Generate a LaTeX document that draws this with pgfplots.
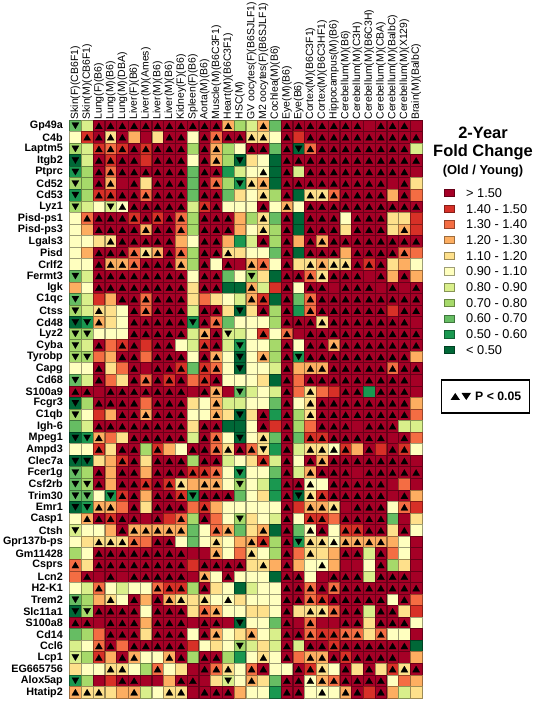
\documentclass[border=0pt]{standalone}
\usepackage{pgfplots}
\usepackage{pgfplotstable}
\usepackage{fontspec}
\setmainfont{Liberation Sans}
\pgfplotsset{compat=1.18}
% colour level of each cell: 0 = >1.50 ... 5 = 0.90-1.10 ... 10 = <0.50
\pgfplotstableread[header=false]{
8 6 0 0 0 0 0 0 0 0 0 0 0 3 7 6 3 8 0 0 0 0 0 0 0 0 0 0 0 0
5 1 0 4 0 3 0 4 0 0 5 0 2 0 0 4 4 5 0 1 0 0 0 0 0 0 0 0 0 0
7 6 1 2 1 0 1 0 0 0 7 0 3 7 5 0 0 8 0 10 2 0 0 0 0 0 0 0 0 6
10 6 0 1 0 0 1 0 0 0 5 0 3 7 10 4 5 10 0 0 0 0 0 0 0 0 0 0 0 0
9 7 0 2 0 0 0 0 0 0 8 0 0 9 6 5 5 10 0 6 0 0 0 0 0 0 0 0 0 0
7 7 0 3 0 0 4 0 0 0 8 0 2 7 9 4 3 10 0 0 0 0 0 0 0 0 0 0 0 4
9 7 1 1 0 0 2 0 0 0 8 0 0 8 4 5 4 7 0 10 4 4 2 0 0 0 0 3 0 2
7 6 5 6 5 0 0 0 0 0 6 1 0 5 5 5 0 5 3 5 0 0 0 0 0 0 0 0 0 0
5 2 0 0 0 1 0 1 0 2 7 0 0 0 3 7 4 8 0 10 0 0 0 5 0 0 0 4 4 1
5 3 0 0 0 0 3 0 0 2 7 0 0 0 3 5 4 7 0 10 0 0 0 4 0 0 0 4 3 1
5 5 4 4 0 0 0 0 0 3 5 0 0 3 9 6 0 7 0 3 0 3 0 0 0 0 0 0 0 0
5 3 0 0 0 2 4 3 0 2 7 0 0 4 4 5 5 8 0 10 0 0 0 3 0 0 0 0 2 2
5 5 0 3 3 2 0 0 0 3 7 0 5 0 0 3 2 5 0 4 4 3 4 4 0 1 0 4 3 5
8 6 0 0 0 0 0 0 0 0 5 0 0 8 5 7 4 10 0 0 2 4 0 0 0 0 0 3 0 3
3 5 0 0 0 0 0 0 0 0 4 0 0 10 10 3 6 1 0 5 0 0 0 0 0 0 0 0 0 0
8 6 1 3 0 0 2 0 0 0 4 2 4 5 6 3 1 10 0 8 2 0 0 0 0 0 0 0 0 0
7 6 4 4 5 0 2 0 0 0 6 0 0 4 10 4 0 7 0 9 2 0 0 0 0 0 0 1 0 0
10 9 3 4 5 0 0 0 0 0 9 0 2 8 5 5 5 7 0 0 0 4 0 0 0 0 0 0 0 0
7 7 5 5 5 0 0 0 0 0 6 3 0 6 6 5 1 5 2 0 0 0 0 0 0 0 0 0 0 0
7 6 0 2 1 0 1 0 0 5 6 1 0 6 9 5 5 7 0 5 0 0 3 0 0 0 0 0 0 0
7 7 2 3 0 0 2 0 0 0 5 0 3 5 10 5 3 7 0 9 0 0 0 0 0 0 0 0 0 3
5 5 0 4 2 0 0 0 0 1 8 1 2 5 10 5 5 6 0 3 3 3 0 0 0 0 0 2 0 0
8 6 0 2 4 0 2 0 1 0 2 1 0 5 5 5 4 10 0 2 0 0 0 0 0 0 0 0 0 0
0 0 0 0 0 0 0 0 0 0 0 0 3 0 8 6 5 6 0 2 4 2 1 0 0 9 0 0 0 0
10 7 0 0 0 0 2 0 0 0 4 5 3 6 6 5 5 8 0 5 4 0 0 0 0 0 0 0 0 3
7 5 1 3 0 0 3 0 0 0 5 5 3 4 10 4 0 9 0 7 4 0 0 0 0 0 0 0 0 2
8 6 0 0 0 0 0 0 0 0 4 0 0 10 10 5 0 1 0 7 2 0 0 0 0 0 0 0 6 6
10 9 3 2 4 0 0 0 0 0 6 0 2 5 10 5 4 8 0 8 1 1 0 0 0 0 0 0 0 2
5 5 1 4 0 0 7 1 3 5 0 0 2 4 0 2 4 9 0 6 4 4 5 1 3 0 1 0 1 5
10 10 4 3 1 0 4 0 0 0 7 0 0 6 5 4 1 6 0 5 0 3 0 0 0 0 0 0 0 0
8 7 0 3 0 0 3 0 0 0 1 1 2 5 9 5 5 8 0 6 3 0 0 0 0 0 0 0 0 0
8 7 0 3 0 0 1 0 1 4 3 3 3 5 7 5 6 9 0 0 5 5 0 0 0 0 0 0 2 0
8 8 5 9 1 0 3 0 0 1 9 0 0 0 8 5 4 9 0 10 4 1 0 0 0 0 0 0 0 3
10 9 3 3 2 0 4 0 0 0 2 1 3 5 5 5 5 5 0 1 3 3 4 0 0 0 0 5 2 1
5 3 0 1 0 0 0 0 1 2 7 0 2 5 7 4 5 6 0 5 1 1 2 0 0 0 0 8 0 4
6 5 5 3 0 3 3 3 3 3 8 5 2 3 8 4 3 10 0 8 5 0 5 1 1 0 0 4 0 5
5 4 4 4 4 2 2 0 0 5 8 5 4 5 3 3 1 7 0 9 4 4 5 3 3 3 3 3 5 0
7 5 0 0 0 0 0 0 0 0 0 0 3 5 2 4 5 7 0 2 4 4 3 0 0 6 0 2 5 0
2 4 0 0 0 0 0 0 0 0 1 0 0 0 0 4 4 3 0 3 5 5 3 0 0 5 0 7 4 0
2 0 0 0 0 0 0 0 0 0 0 3 5 0 5 5 5 10 0 0 5 0 0 0 0 6 0 0 0 0
5 6 2 5 6 5 5 2 1 1 7 0 4 5 10 6 5 5 0 0 2 0 2 0 0 0 0 0 0 0
8 7 3 4 5 0 3 0 3 4 4 4 5 5 4 5 5 5 0 0 2 1 0 0 0 0 0 5 0 2
10 7 0 0 0 0 5 0 0 0 4 2 3 5 5 4 4 5 0 4 4 4 2 0 0 6 0 0 4 1
0 0 0 0 0 0 3 0 0 0 0 0 0 0 10 5 5 8 0 0 2 0 0 0 0 4 0 0 0 5
8 7 2 0 0 0 4 0 0 0 5 0 3 5 4 3 5 6 0 0 2 1 1 2 2 4 2 5 5 0
6 5 2 0 2 0 0 0 0 0 1 5 4 5 7 6 4 6 0 6 0 0 1 0 0 0 0 0 0 10
6 7 1 3 0 3 5 5 3 0 7 0 0 7 9 5 4 5 0 2 3 3 0 1 0 0 0 0 0 3
4 5 5 4 4 5 7 2 5 4 0 0 2 4 5 2 0 5 5 0 1 4 5 0 4 0 4 1 4 0
9 7 0 1 0 0 0 0 3 0 0 0 4 6 5 3 4 8 0 0 5 3 2 0 0 0 0 5 2 3
3 4 4 4 3 3 6 5 4 4 0 0 0 0 3 5 5 9 0 0 5 5 5 3 0 1 0 3 6 4
}\cells
% significance of each cell: 0 = none, 1 = up, 2 = down
\pgfplotstableread[header=false]{
2 0 1 1 1 1 1 1 1 1 1 1 1 1 0 0 1 0 1 1 1 1 1 1 1 0 1 1 1 0
0 1 1 1 1 0 0 0 1 1 0 1 1 1 1 1 1 0 1 0 1 1 1 1 1 1 1 1 1 1
2 0 1 1 1 1 1 1 1 1 0 1 1 0 0 1 1 0 1 2 1 1 1 1 1 1 1 1 1 0
2 0 1 1 1 1 0 1 1 1 0 1 1 0 2 0 0 0 1 1 1 1 1 1 1 1 1 1 1 1
2 0 1 1 1 1 1 1 1 1 0 1 1 0 0 0 1 0 1 0 1 1 1 1 1 1 1 1 1 0
2 0 1 1 0 1 0 1 1 1 0 1 1 0 2 1 1 0 1 1 1 1 1 1 1 1 1 0 1 0
2 0 1 1 1 1 1 1 1 1 0 1 1 0 0 0 1 0 1 0 1 1 1 1 1 1 1 0 1 0
2 0 0 2 1 1 1 1 1 1 0 1 1 0 0 0 1 0 1 0 1 1 1 1 1 1 1 1 1 1
0 1 1 1 1 1 1 1 1 1 0 1 1 1 0 0 1 0 1 0 1 1 1 0 1 1 1 0 0 0
0 0 1 1 1 1 1 1 1 1 0 1 1 1 0 0 1 0 1 0 1 1 1 0 1 1 1 0 1 0
0 0 0 1 1 1 1 1 1 0 0 1 1 0 0 0 1 0 1 0 1 1 1 1 1 1 1 1 1 1
0 0 1 1 1 1 1 1 1 1 0 1 1 1 0 0 0 0 1 0 1 1 1 0 1 1 1 1 1 0
0 0 1 1 1 1 1 1 1 1 0 1 0 1 0 1 1 0 1 0 1 1 1 1 1 1 1 0 0 0
2 0 1 1 1 1 1 1 1 1 0 1 1 0 0 2 0 0 1 1 1 1 1 1 1 0 1 0 1 0
0 0 1 1 1 1 1 1 1 1 0 1 1 0 0 1 0 0 1 0 1 1 0 1 1 1 0 1 0 1
2 0 0 0 1 1 1 1 1 1 0 0 0 0 0 1 1 0 1 0 1 1 1 1 1 1 1 1 1 1
2 0 1 0 0 1 1 1 1 1 0 1 1 0 2 0 1 0 1 0 1 1 1 1 1 1 1 0 1 1
2 2 1 0 0 1 1 1 1 1 2 1 1 0 0 0 0 0 1 1 1 1 1 1 1 1 1 1 1 0
2 2 0 0 0 1 1 1 1 1 0 1 1 2 0 0 1 0 1 0 1 1 1 1 1 1 1 1 1 1
2 0 1 0 1 1 0 1 1 0 0 1 1 0 2 0 0 0 1 0 1 1 1 1 1 1 1 1 1 1
2 2 0 0 1 1 0 1 1 1 0 1 1 0 2 0 1 0 1 2 1 1 1 1 1 1 1 1 1 0
0 0 1 0 0 1 0 1 1 1 0 1 1 0 2 0 0 0 1 0 1 1 1 1 1 1 1 1 1 1
2 0 1 0 0 1 1 1 1 1 0 1 1 0 0 0 0 0 1 0 1 1 1 1 1 1 1 1 1 0
1 1 0 1 1 1 1 1 1 1 0 1 1 0 2 0 0 0 1 0 1 0 0 1 1 0 1 1 1 0
2 0 1 1 1 1 0 1 1 1 0 0 1 0 0 0 0 0 1 0 1 1 1 1 1 1 1 1 1 0
2 0 0 0 1 1 1 1 1 1 0 0 1 0 2 0 1 0 1 0 1 1 1 1 1 1 1 1 1 0
0 0 1 1 1 1 1 1 1 1 0 1 1 0 0 0 1 0 1 0 0 1 1 1 0 1 1 1 0 0
2 2 1 0 0 1 1 1 1 1 0 1 1 0 2 0 1 0 1 0 1 1 1 1 1 1 1 0 1 0
0 0 1 0 1 1 0 1 0 0 1 1 1 1 1 1 2 0 1 0 1 1 1 1 0 1 0 1 1 0
2 2 0 0 1 1 0 1 1 1 0 1 1 0 0 0 1 0 1 0 1 1 1 1 1 1 1 1 1 0
2 0 1 0 1 1 0 1 1 1 1 1 1 0 2 0 0 0 1 0 1 1 1 1 0 1 1 1 1 1
2 2 1 0 1 1 1 1 1 1 0 1 1 0 2 0 0 0 1 1 1 0 1 1 1 1 1 0 0 0
2 2 0 2 1 1 0 1 1 1 2 1 1 1 0 0 0 0 1 2 1 1 1 1 1 1 1 0 1 0
2 2 1 1 0 1 0 1 1 1 0 1 0 0 0 0 0 0 1 0 1 1 1 0 1 1 1 0 1 0
0 1 1 1 1 1 0 1 0 1 0 1 0 0 2 0 0 0 1 0 1 1 0 1 1 1 1 0 0 0
2 0 0 0 1 1 1 1 1 1 0 0 1 1 0 0 1 0 1 0 1 1 0 1 1 1 1 0 1 0
0 0 1 1 1 1 0 1 1 0 0 0 1 0 0 1 1 0 1 2 1 1 1 1 1 1 1 0 0 0
0 0 1 1 1 1 1 1 1 1 0 0 1 0 0 1 0 0 1 0 1 0 0 1 1 0 1 0 0 0
1 0 1 1 1 1 1 1 1 1 0 1 1 1 1 0 1 0 1 0 0 1 0 0 0 0 1 0 0 0
0 1 0 1 0 1 1 1 1 1 0 1 0 1 0 0 0 0 1 1 0 0 1 1 1 0 1 1 1 0
0 0 1 0 0 0 0 1 1 1 0 1 0 0 0 0 0 0 1 1 1 1 1 1 1 1 1 1 1 1
2 0 0 1 0 1 0 1 1 1 0 1 0 1 0 0 0 0 1 1 1 1 1 1 1 1 1 0 1 0
2 2 1 1 1 1 0 1 1 1 0 1 1 0 0 0 0 0 1 0 1 1 1 1 1 0 1 1 0 0
1 1 0 1 1 1 0 1 1 1 0 1 1 0 2 0 0 0 1 0 1 0 0 1 1 0 1 1 1 0
0 0 0 1 1 1 0 1 1 1 0 1 1 0 0 1 0 0 1 1 1 1 1 1 1 0 1 0 0 0
0 0 1 1 0 1 1 1 1 1 0 0 0 0 2 0 0 0 1 0 1 1 1 1 1 1 1 1 1 0
2 0 1 0 1 1 0 0 1 1 0 1 1 0 0 0 1 0 1 0 1 1 1 1 1 1 1 1 0 0
0 0 0 1 1 0 0 1 0 0 0 1 1 1 0 1 1 0 0 1 1 1 0 1 0 1 0 1 1 1
2 0 0 0 1 1 0 0 0 1 1 0 0 2 0 1 0 0 1 1 1 1 1 1 1 1 1 0 0 0
1 1 1 0 0 1 0 0 1 1 0 1 1 1 0 0 0 0 1 1 0 1 0 1 1 0 1 0 0 0
}\signif
\definecolor{c0}{RGB}{165,0,38}
\definecolor{c1}{RGB}{215,48,39}
\definecolor{c2}{RGB}{244,109,67}
\definecolor{c3}{RGB}{253,174,97}
\definecolor{c4}{RGB}{254,224,139}
\definecolor{c5}{RGB}{255,255,191}
\definecolor{c6}{RGB}{217,239,139}
\definecolor{c7}{RGB}{166,217,106}
\definecolor{c8}{RGB}{102,189,99}
\definecolor{c9}{RGB}{26,152,80}
\definecolor{c10}{RGB}{0,104,55}
\begin{document}
\begin{tikzpicture}[x=1bp,y=1bp]
\path[use as bounding box] (0,0) rectangle (537,701);
\begin{axis}[
  at={(69.5bp,3bp)}, anchor=south west,
  scale only axis, width=352.5bp, height=578bp,
  xmin=-0.5, xmax=29.5, ymin=-0.5, ymax=49.5, y dir=reverse,
  clip=false, axis line style={draw=none}, major tick length=0pt,
  colormap={rdylgn}{rgb255=(165,0,38) rgb255=(215,48,39) rgb255=(244,109,67) rgb255=(253,174,97) rgb255=(254,224,139) rgb255=(255,255,191) rgb255=(217,239,139) rgb255=(166,217,106) rgb255=(102,189,99) rgb255=(26,152,80) rgb255=(0,104,55)},
  point meta min=0, point meta max=10,
  xtick={0,...,29}, ytick={0,...,49},
  xticklabel pos=upper,
  xticklabels={Skin(F)(CB6F1),Skin(M)(CB6F1),Lung(F)(B6),Lung(M)(B6),Lung(M)(DBA),Liver(F)(B6),Liver(M)(Ames),Liver(M)(B6),Liver(M)(B6),Kidney(F)(B6),Spleen(F)(B6),Aorta(M)(B6),Muscle(M)(B6C3F1),Heart(M)(B6C3F1),HSC(M),GV oocytes(F)(B6SJLF1),M2 oocytes(F)(B6SJLF1),Cochlea(M)(B6),Eye(M)(B6),Eye(B6),Cortex(M)(B6C3F1),Cortex(M)(B6C3HF1),Hippocampus(M)(B6),Cerebellum(M)(B6),Cerebellum(M)(C3H),Cerebellum(M)(B6C3H),Cerebellum(M)(CBA),Cerebellum(M)(BalbC),Cerebellum(M)(X129),Brain(M)(BalbC)},
  yticklabels={Gp49a,C4b,Laptm5,Itgb2,Ptprc,Cd52,Cd53,Lyz1,Pisd-ps1,Pisd-ps3,Lgals3,Pisd,Crlf2,Fermt3,Igk,C1qc,Ctss,Cd48,Lyz2,Cyba,Tyrobp,Capg,Cd68,S100a9,Fcgr3,C1qb,Igh-6,Mpeg1,Ampd3,Clec7a,Fcer1g,Csf2rb,Trim30,Emr1,Casp1,Ctsh,Gpr137b-ps,Gm11428,Csprs,Lcn2,H2-K1,Trem2,Slc11a1,S100a8,Cd14,Ccl6,Lcp1,EG665756,Alox5ap,Htatip2},
  x tick label style={rotate=90, anchor=west, font=\fontsize{10.5}{10.5}\selectfont, inner sep=0pt, xshift=0.3bp},
  y tick label style={font=\fontsize{10.8}{11}\selectfont\bfseries, anchor=east, inner sep=0pt, xshift=-6.5bp},
  scatter/use mapped color={draw=mapped color!62!black, fill=mapped color},
]
\pgfplotsinvokeforeach{0,...,29}{
  \addplot[scatter, only marks, mark=square*, mark size=5.8bp, line width=0.6pt, scatter src=explicit]
    table[x expr=#1, y expr=\coordindex, meta index=#1]{\cells};
}
\pgfplotsinvokeforeach{0,...,29}{
  \addplot[only marks, mark=triangle*, mark size=4.1bp, black, mark options={fill=black, line width=0.2pt, yshift=-1bp}]
    table[x expr=#1, y expr={\thisrowno{#1}==1 ? \lineno : nan}]{\signif};
  \addplot[only marks, mark=triangle*, mark size=4.1bp, black, mark options={fill=black, line width=0.2pt, rotate=180, yshift=-1bp}]
    table[x expr=#1, y expr={\thisrowno{#1}==2 ? \lineno : nan}]{\signif};
}
\end{axis}
% legend
\node[font=\fontsize{16.5}{17}\selectfont\bfseries] at (483,568) {2-Year};
\node[font=\fontsize{16.5}{17}\selectfont\bfseries] at (483,549) {Fold Change};
\node[font=\fontsize{13}{14}\selectfont\bfseries] at (483,530) {(Old / Young)};
\foreach \i/\c/\t in {0/c0/{> 1.50},1/c1/{1.40 - 1.50},2/c2/{1.30 - 1.40},3/c3/{1.20 - 1.30},4/c4/{1.10 - 1.20},5/c5/{0.90 - 1.10},6/c6/{0.80 - 0.90},7/c7/{0.70 - 0.80},8/c8/{0.60 - 0.70},9/c9/{0.50 - 0.60},10/c10/{< 0.50}}{
  \pgfmathsetmacro{\yy}{508-15.7*\i}
  \draw[draw=\c!62!black, fill=\c, line width=0.6pt] (444.5,\yy-3.7) rectangle (454,\yy+3.7);
  \node[anchor=west, inner sep=0pt, font=\fontsize{12.8}{13}\selectfont] at (466,\yy) {\t};
}
\draw[line width=1.1pt] (441.5,288) rectangle (529.5,321);
\fill[black] (450.5,301) -- (460,301) -- (455.25,308) -- cycle;
\fill[black] (461.5,308) -- (471,308) -- (466.25,301) -- cycle;
\node[anchor=west, inner sep=0pt, font=\fontsize{12.3}{12}\selectfont\bfseries] at (475,304.5) {P < 0.05};
\end{tikzpicture}
\end{document}
